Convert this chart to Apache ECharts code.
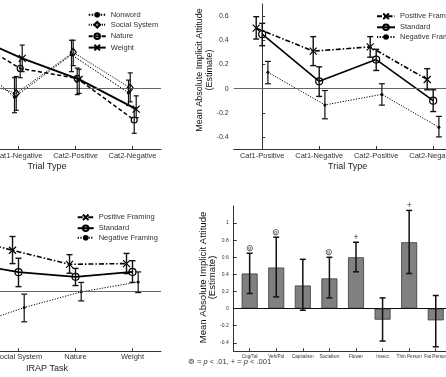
<!DOCTYPE html>
<html>
<head>
<meta charset="utf-8">
<script src="https://cdn.jsdelivr.net/npm/echarts@6/dist/echarts.min.js"></script>
<style>
    html, body { margin: 0; padding: 0; background: #fff; }
    #chart { width: 446px; height: 377px; }
</style>
</head>
<body>
<div id="chart"></div>
<script>
// ---------- categories / ticks ----------
var trialTypes = ['Cat1-Positive', 'Cat1-Negative', 'Cat2-Positive', 'Cat2-Negative'];
var irapTasks = ['Nonword', 'Social System', 'Nature', 'Weight'];
var barCats = ['Cog/Tal', 'Veh/Pol', 'Capitalism', 'Socialism', 'Flower', 'Insect', 'Thin Person', 'Fat Person'];
var lineTicks = [-0.4, -0.2, 0, 0.2, 0.4, 0.6];
var barTicks = [-0.4, -0.2, 0, 0.2, 0.4, 0.6, 0.8, 1];

// ---------- top left: IRAP task by trial type ----------
var nonwordVal  = [0.33, -0.07, 0.28, -0.035];
var nonwordLow  = [0.23, -0.20, 0.14, -0.14];
var nonwordHigh = [0.43, 0.09, 0.40, 0.07];
var socialVal   = [0.12, -0.04, 0.30, 0.005];
var socialLow   = [0.02, -0.18, 0.19, -0.11];
var socialHigh  = [0.22, 0.10, 0.40, 0.13];
var natureVal   = [0.45, 0.167, 0.084, -0.26];
var natureLow   = [0.35, 0.09, -0.05, -0.37];
var natureHigh  = [0.55, 0.26, 0.17, -0.16];
var weightVal   = [0.46, 0.25, 0.076, -0.17];
var weightLow   = [0.36, 0.14, -0.04, -0.24];
var weightHigh  = [0.56, 0.36, 0.16, -0.06];

// ---------- top right: framing by trial type ----------
var posTrialVal  = [0.50, 0.31, 0.345, 0.075];
var posTrialLow  = [0.41, 0.19, 0.26, -0.01];
var posTrialHigh = [0.595, 0.43, 0.43, 0.165];
var stdTrialVal  = [0.45, 0.06, 0.24, -0.10];
var stdTrialLow  = [0.355, -0.065, 0.15, -0.19];
var stdTrialHigh = [0.54, 0.18, 0.325, -0.01];
var negTrialVal  = [0.135, -0.135, -0.048, -0.32];
var negTrialLow  = [0.04, -0.25, -0.137, -0.40];
var negTrialHigh = [0.225, -0.016, 0.04, -0.23];

// ---------- bottom left: framing by IRAP task ----------
var posTaskVal  = [0.46, 0.336, 0.22, 0.226];
var posTaskLow  = [0.36, 0.226, 0.146, 0.143];
var posTaskHigh = [0.56, 0.45, 0.30, 0.31];
var stdTaskVal  = [0.24, 0.155, 0.116, 0.157];
var stdTaskLow  = [0.15, 0.035, 0.044, 0.07];
var stdTaskHigh = [0.33, 0.27, 0.186, 0.25];
var negTaskVal  = [-0.30, -0.138, -0.008, 0.074];
var negTaskLow  = [-0.40, -0.256, -0.083, -0.014];
var negTaskHigh = [-0.20, -0.027, 0.07, 0.157];

// ---------- bottom right: bars ----------
var barVals = [0.41, 0.48, 0.27, 0.353, 0.60, -0.13, 0.776, -0.138];
var barLow  = [0.176, 0.137, -0.02, 0.125, 0.43, -0.38, 0.41, -0.447];
var barHigh = [0.647, 0.835, 0.576, 0.60, 0.776, 0.125, 1.148, 0.153];
var sigMarks = ['\u229A', '\u229A', '', '\u229A', '+', '', '+', ''];

var FONT = '"Liberation Sans", Arial, sans-serif';
var X_PATH = 'path://M0,0L10,10M0,10L10,0';

function pts(vals, off) {
    return vals.map(function (v, i) { return [i + off, v]; });
}
function errPts(low, high, off) {
    return low.map(function (l, i) { return [i + off, l, high[i]]; });
}

// error bar: vertical line with small caps
function errSeries(axis, low, high, off, capHalf, lw) {
    return {
        type: 'custom',
        xAxisIndex: axis, yAxisIndex: axis,
        data: errPts(low, high, off),
        encode: { x: 0, y: [1, 2] },
        silent: true,
        z: 5,
        renderItem: function (params, api) {
            var a = api.coord([api.value(0), api.value(1)]);
            var b = api.coord([api.value(0), api.value(2)]);
            var st = { stroke: '#111', lineWidth: lw };
            return {
                type: 'group',
                children: [
                    { type: 'line', shape: { x1: a[0], y1: a[1], x2: b[0], y2: b[1] }, style: st },
                    { type: 'line', shape: { x1: a[0] - capHalf, y1: a[1], x2: a[0] + capHalf, y2: a[1] }, style: st },
                    { type: 'line', shape: { x1: b[0] - capHalf, y1: b[1], x2: b[0] + capHalf, y2: b[1] }, style: st }
                ]
            };
        }
    };
}

function lineSeries(name, axis, vals, off, st) {
    return {
        name: name,
        type: 'line',
        xAxisIndex: axis, yAxisIndex: axis,
        data: pts(vals, off),
        symbol: st.symbol,
        symbolSize: st.size,
        showAllSymbol: true,
        lineStyle: { color: '#000', width: st.width, type: st.dash },
        itemStyle: st.filled ? { color: '#000', borderWidth: 0 }
                             : { color: 'none', borderColor: '#000', borderWidth: 1.2 },
        emphasis: { disabled: true },
        z: 3
    };
}

function zeroLine(color) {
    return {
        silent: true, symbol: 'none', label: { show: false },
        lineStyle: { color: color, width: 1, type: 'solid' },
        data: [{ yAxis: 0 }]
    };
}

var posStyle = { symbol: X_PATH, size: 7, width: 1.6, dash: [5, 2, 1.5, 2], filled: false };
var stdStyle = { symbol: 'circle', size: 7, width: 1.6, dash: 'solid', filled: false };
var negStyle = { symbol: 'circle', size: 3, width: 1, dash: [1.2, 1.5], filled: true };

var axisColor = '#333';

function catXAxis(idx, labels, name, nameGap, labelMargin) {
    return {
        gridIndex: idx,
        type: 'value', min: -0.5, max: 3.5,
        name: name, nameLocation: 'middle', nameGap: nameGap,
        nameTextStyle: { fontSize: 9, color: '#222', fontFamily: FONT },
        axisLine: { show: true, onZero: false, lineStyle: { color: axisColor } },
        axisTick: { show: true, inside: true, length: 3, customValues: [0, 1, 2, 3], lineStyle: { color: axisColor } },
        axisLabel: {
            customValues: [0, 1, 2, 3], fontSize: 7.5, color: '#333', fontFamily: FONT, margin: labelMargin,
            formatter: function (v) { return labels[Math.round(v)]; }
        },
        splitLine: { show: false }
    };
}

function valYAxis(idx, min, max, ticks, fs, margin) {
    return {
        gridIndex: idx,
        type: 'value', min: min, max: max,
        axisLine: { show: true, lineStyle: { color: axisColor } },
        axisTick: { show: true, inside: true, length: 3, customValues: ticks, lineStyle: { color: axisColor } },
        axisLabel: { customValues: ticks, fontSize: fs, color: '#333', fontFamily: FONT, margin: margin },
        splitLine: { show: false }
    };
}

function legendAt(names, left, top, iw, gap) {
    return {
        data: names, orient: 'vertical', left: left, top: top, padding: 0,
        itemWidth: iw, itemHeight: 7, itemGap: gap, selectedMode: false,
        textStyle: { fontSize: 7.5, color: '#333', fontFamily: FONT }
    };
}

var tlOff = [-0.07, -0.04, 0.03, 0.065];
var fOff = [-0.105, 0, 0.1];

var series = [];
// top left
var s0 = lineSeries('Nonword', 0, nonwordVal, tlOff[0], { symbol: 'circle', size: 3.5, width: 1, dash: [1.5, 1.5], filled: true });
s0.markLine = zeroLine('#666');
series.push(s0);
series.push(lineSeries('Social System', 0, socialVal, tlOff[1], { symbol: 'diamond', size: [6, 8], width: 1, dash: [1, 1.2], filled: false }));
series.push(lineSeries('Nature', 0, natureVal, tlOff[2], { symbol: 'circle', size: 6, width: 1.5, dash: [4, 2.5], filled: false }));
series.push(lineSeries('Weight', 0, weightVal, tlOff[3], { symbol: X_PATH, size: 7, width: 2, dash: 'solid', filled: false }));
series.push(errSeries(0, nonwordLow, nonwordHigh, tlOff[0], 2.5, 1.2));
series.push(errSeries(0, socialLow, socialHigh, tlOff[1], 2.5, 1.2));
series.push(errSeries(0, natureLow, natureHigh, tlOff[2], 2.5, 1.2));
series.push(errSeries(0, weightLow, weightHigh, tlOff[3], 2.5, 1.2));

// top right
var s1 = lineSeries('Positive Framing', 1, posTrialVal, fOff[0], posStyle);
s1.markLine = zeroLine('#666');
series.push(s1);
series.push(lineSeries('Standard', 1, stdTrialVal, fOff[1], stdStyle));
series.push(lineSeries('Negative Framing', 1, negTrialVal, fOff[2], negStyle));
series.push(errSeries(1, posTrialLow, posTrialHigh, fOff[0], 3, 1.4));
series.push(errSeries(1, stdTrialLow, stdTrialHigh, fOff[1], 3, 1.4));
series.push(errSeries(1, negTrialLow, negTrialHigh, fOff[2], 3, 1.2));

// bottom left
var s2 = lineSeries('Positive Framing', 2, posTaskVal, fOff[0], posStyle);
s2.markLine = zeroLine('#666');
series.push(s2);
series.push(lineSeries('Standard', 2, stdTaskVal, fOff[1], stdStyle));
series.push(lineSeries('Negative Framing', 2, negTaskVal, fOff[2], negStyle));
series.push(errSeries(2, posTaskLow, posTaskHigh, fOff[0], 3, 1.4));
series.push(errSeries(2, stdTaskLow, stdTaskHigh, fOff[1], 3, 1.4));
series.push(errSeries(2, negTaskLow, negTaskHigh, fOff[2], 3, 1.2));

// bottom right bars
series.push({
    type: 'bar',
    xAxisIndex: 3, yAxisIndex: 3,
    data: barVals.map(function (v, i) { return [i + 1, v]; }),
    barWidth: 16,
    itemStyle: { color: '#808080', borderColor: '#3a3a3a', borderWidth: 0.8 },
    emphasis: { disabled: true },
    markLine: zeroLine('#111'),
    z: 2
});
series.push(errSeries(3, barLow, barHigh, 1, 3, 1.5));
series.push({
    type: 'custom',
    xAxisIndex: 3, yAxisIndex: 3,
    data: barHigh.map(function (h, i) { return [i + 1, h]; }),
    encode: { x: 0, y: 1 },
    silent: true,
    z: 6,
    renderItem: function (params, api) {
        var p = api.coord([api.value(0), api.value(1)]);
        return {
            type: 'text', x: p[0], y: p[1] - 5,
            style: { text: sigMarks[params.dataIndex], align: 'center', verticalAlign: 'middle',
                     fontSize: 8.5, fill: '#333', fontFamily: FONT }
        };
    }
});

var option = {
    animation: false,
    backgroundColor: '#fff',
    grid: [
        { left: -67, top: 4, width: 228, height: 145, outerBoundsMode: 'none', containLabel: false },
        { left: 233.7, top: 4, width: 228, height: 145, outerBoundsMode: 'none', containLabel: false },
        { left: -67, top: 206.3, width: 228, height: 145, outerBoundsMode: 'none', containLabel: false },
        { left: 233.7, top: 206, width: 218, height: 145.3, outerBoundsMode: 'none', containLabel: false }
    ],
    xAxis: [
        catXAxis(0, trialTypes, 'Trial Type', 13.5, 3),
        catXAxis(1, trialTypes, 'Trial Type', 13.5, 3),
        catXAxis(2, irapTasks, 'IRAP Task', 12.5, 2),
        {
            gridIndex: 3, type: 'value', min: 0.4, max: 8.6,
            axisLine: { show: true, onZero: false, lineStyle: { color: axisColor } },
            axisTick: { show: true, inside: true, length: 3, customValues: [1, 2, 3, 4, 5, 6, 7, 8], lineStyle: { color: axisColor } },
            axisLabel: {
                customValues: [1, 2, 3, 4, 5, 6, 7, 8], fontSize: 4.7, color: '#333', fontFamily: FONT, margin: 3,
                formatter: function (v) { return barCats[Math.round(v) - 1]; }
            },
            splitLine: { show: false }
        }
    ],
    yAxis: [
        valYAxis(0, -0.5, 0.7, lineTicks, 7, 5),
        valYAxis(1, -0.5, 0.7, lineTicks, 7, 5),
        valYAxis(2, -0.5, 0.7, lineTicks, 7, 5),
        valYAxis(3, -0.5, 1.2, barTicks, 5, 5)
    ],
    legend: [
        legendAt(['Nonword', 'Social System', 'Nature', 'Weight'], 87.7, 10.7, 17, 0.8),
        legendAt(['Positive Framing', 'Standard', 'Negative Framing'], 376, 11, 18, 0.4),
        legendAt(['Positive Framing', 'Standard', 'Negative Framing'], 76.7, 212, 16, 0.3)
    ],
    graphic: [
        {
            type: 'text', x: 205, y: 70, rotation: Math.PI / 2,
            style: { text: 'Mean Absolute Implicit Attitude\n(Estimate)', align: 'center', verticalAlign: 'middle',
                     fontSize: 9, lineHeight: 10, fill: '#111', fontFamily: FONT }
        },
        {
            type: 'text', x: 207.5, y: 277.5, rotation: Math.PI / 2,
            style: { text: 'Mean Absolute Implicit Attitude\n(Estimate)', align: 'center', verticalAlign: 'middle',
                     fontSize: 9.6, lineHeight: 9, fill: '#111', fontFamily: FONT }
        },
        {
            type: 'text', x: 188, y: 362,
            style: {
                text: '{n|\u229A = }{i|p}{n| < .01, + = }{i|p}{n| < .001}',
                verticalAlign: 'middle',
                rich: {
                    n: { fontSize: 7.5, fill: '#333', fontFamily: FONT },
                    i: { fontSize: 7.5, fill: '#333', fontFamily: FONT, fontStyle: 'italic' }
                }
            }
        }
    ],
    series: series
};

var chart = echarts.init(document.getElementById('chart'));
chart.setOption(option);
</script>
</body>
</html>
